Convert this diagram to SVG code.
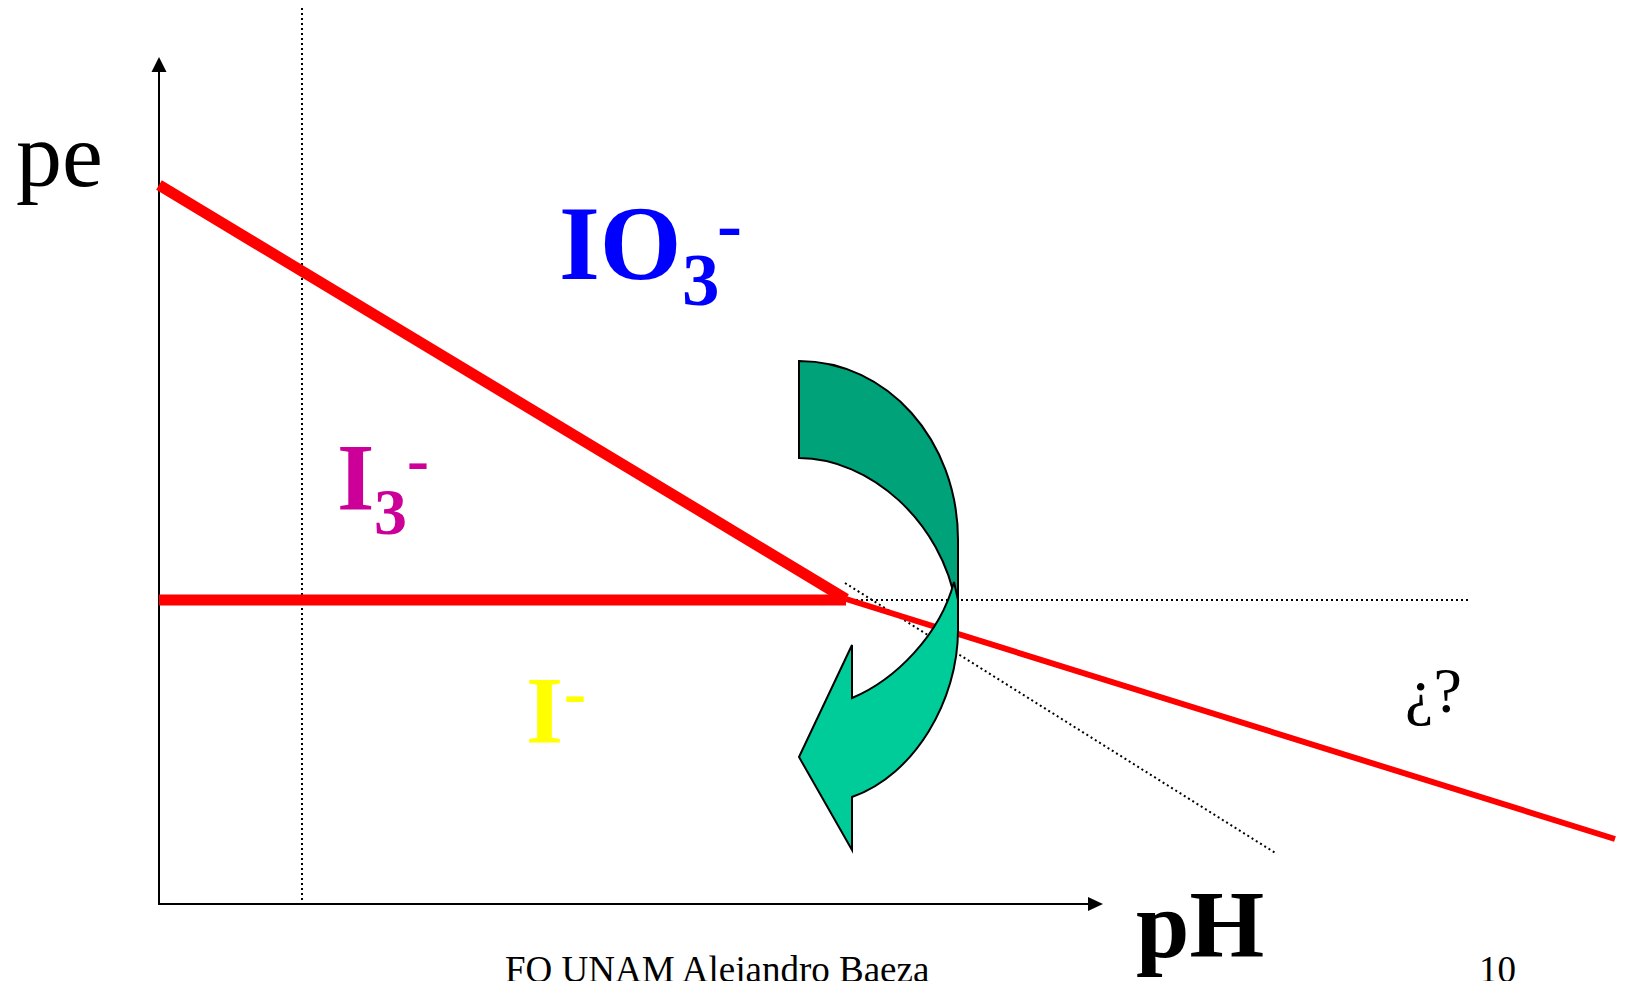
<svg xmlns="http://www.w3.org/2000/svg" width="1628" height="981" viewBox="0 0 1628 981">
<style>
.axis{stroke:#000;stroke-width:2;fill:none}
.dot{stroke:#000;stroke-width:2;stroke-dasharray:2 3;fill:none}
.thick{stroke:#FF0000;stroke-width:11;fill:none}
.thin{stroke:#FF0000;stroke-width:6;fill:none}
.serif{font-family:"Liberation Serif","Times New Roman",serif}
.bold{font-weight:bold}
.arr{stroke:#000;stroke-width:2;stroke-linejoin:miter}
</style>
<rect width="1628" height="981" fill="#fff"/>
<g id="connectors">
<line class="dot" x1="302" y1="8" x2="302" y2="904"/>
<line class="dot" x1="846" y1="600" x2="1469" y2="600"/>
<line class="dot" x1="845" y1="583" x2="1277" y2="854"/>
<line class="axis" x1="159" y1="904" x2="159" y2="70"/>
<path d="M159,57 L151.5,72 L166.5,72 Z" fill="#000"/>
<line class="axis" x1="158" y1="904" x2="1090" y2="904"/>
<path d="M1103,904 L1088,897 L1088,911 Z" fill="#000"/>
<line class="thick" x1="159" y1="185" x2="846" y2="599"/>
<line class="thick" x1="159" y1="600" x2="846" y2="600"/>
<line class="thin" x1="846" y1="599" x2="1615" y2="839"/>
</g>
<g id="curved-arrow">
<path class="arr" fill="#00A27A" d="M799,361 C887,361 958,440 958,540 L958,630 L956,605 C942,522 870,458 799,458 Z"/>
<path class="arr" fill="#00CC99" d="M852,698 C895,680 940,635 954,582 L958,600 L958,630 C958,700 915,775 852,797 L852,850 L799,757 L852,645 Z"/>
</g>
<g id="label-pe"><text class="serif" x="16" y="186" font-size="92">pe</text></g>
<g id="label-IO3"><text class="serif bold" fill="#0000FF" x="559" y="279" font-size="105">IO<tspan font-size="75" x="682" y="305">3</tspan><tspan font-size="75" x="717" y="249">-</tspan></text></g>
<g id="label-I3"><text class="serif bold" fill="#CC0099" x="337" y="510" font-size="96">I<tspan font-size="66" x="374" y="534">3</tspan><tspan font-size="66" x="407" y="482">-</tspan></text></g>
<g id="label-I"><text class="serif bold" fill="#FFFF00" x="526" y="743" font-size="95">I<tspan font-size="66" x="564" y="715">-</tspan></text></g>
<g id="label-pH"><text class="serif bold" x="1136" y="957" font-size="96">pH</text></g>
<g id="label-q"><text class="serif" x="1405" y="712" font-size="64">¿?</text></g>
<g id="footer"><text class="serif" x="505" y="982" font-size="37">FO UNAM Alejandro Baeza</text><text class="serif" x="1479" y="982" font-size="37">10</text></g>
</svg>
